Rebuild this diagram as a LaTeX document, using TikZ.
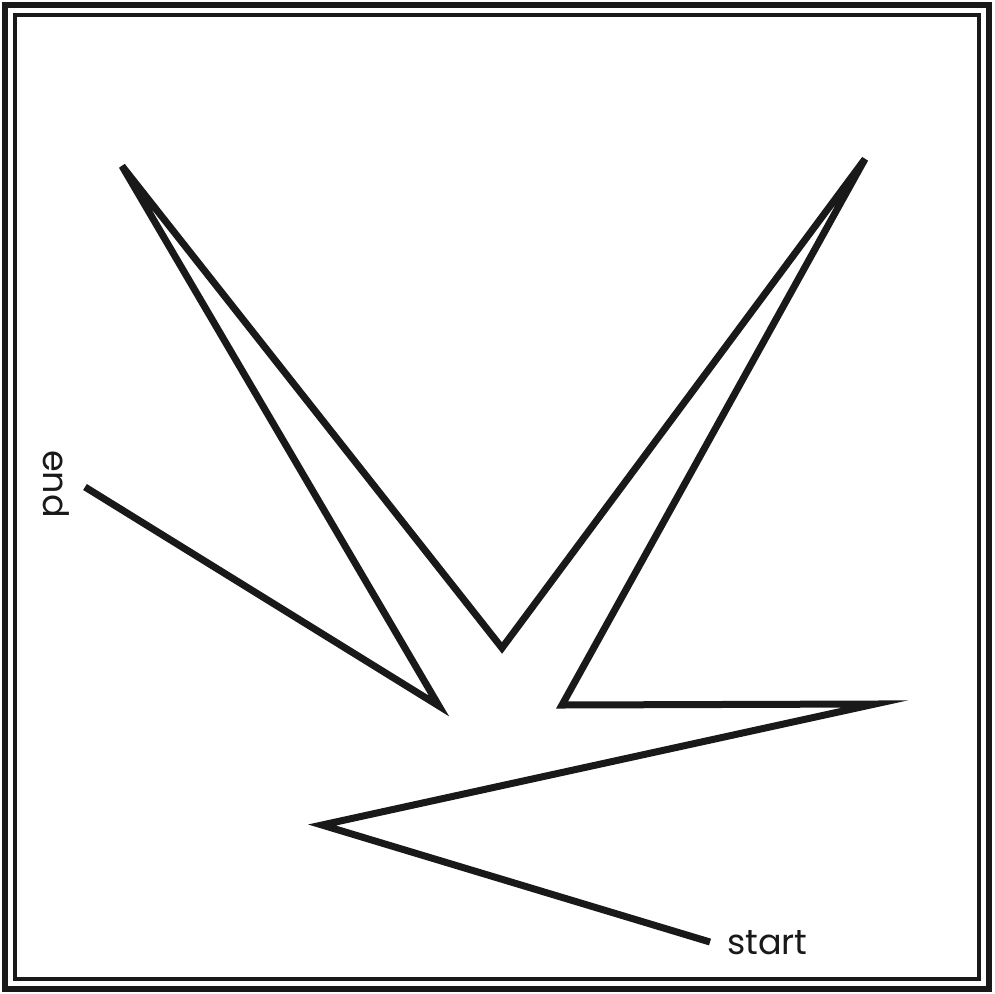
\documentclass[tikz,border=0pt]{standalone}
\usepackage{fontspec}
\setmainfont{Poppins}
\begin{document}
\begin{tikzpicture}[x=1pt,y=-1pt,
  frameline/.style={draw=black!90},
  zigzag/.style={draw=black!90, line width=7pt, line join=miter, line cap=butt},
  lbl/.style={font=\fontsize{35}{35}\selectfont, text=black!90, inner sep=0pt}]
\useasboundingbox (0,0) rectangle (994,994);
\draw[frameline, line width=5.5pt] (5,5) rectangle (989,989);
\draw[frameline, line width=4.5pt] (15,15) rectangle (979,979);
\coordinate (p0) at (710,942);
\coordinate (p1) at (322,825);
\coordinate (p2) at (875,704);
\coordinate (p3) at (562,705);
\coordinate (p4) at (865,159);
\coordinate (p5) at (502,648);
\coordinate (p6) at (122,166);
\coordinate (p7) at (439,706);
\coordinate (p8) at (85,487);
\draw[zigzag] (p0) -- (p1) -- (p2) -- (p3) -- (p4) -- (p5) -- (p6) -- (p7) -- (p8);
\node[lbl, anchor=base west] (startlbl) at (727,954) {start};
\node[lbl, anchor=base west, rotate=-90] (endlbl) at (43,450) {end};
\end{tikzpicture}
\end{document}
